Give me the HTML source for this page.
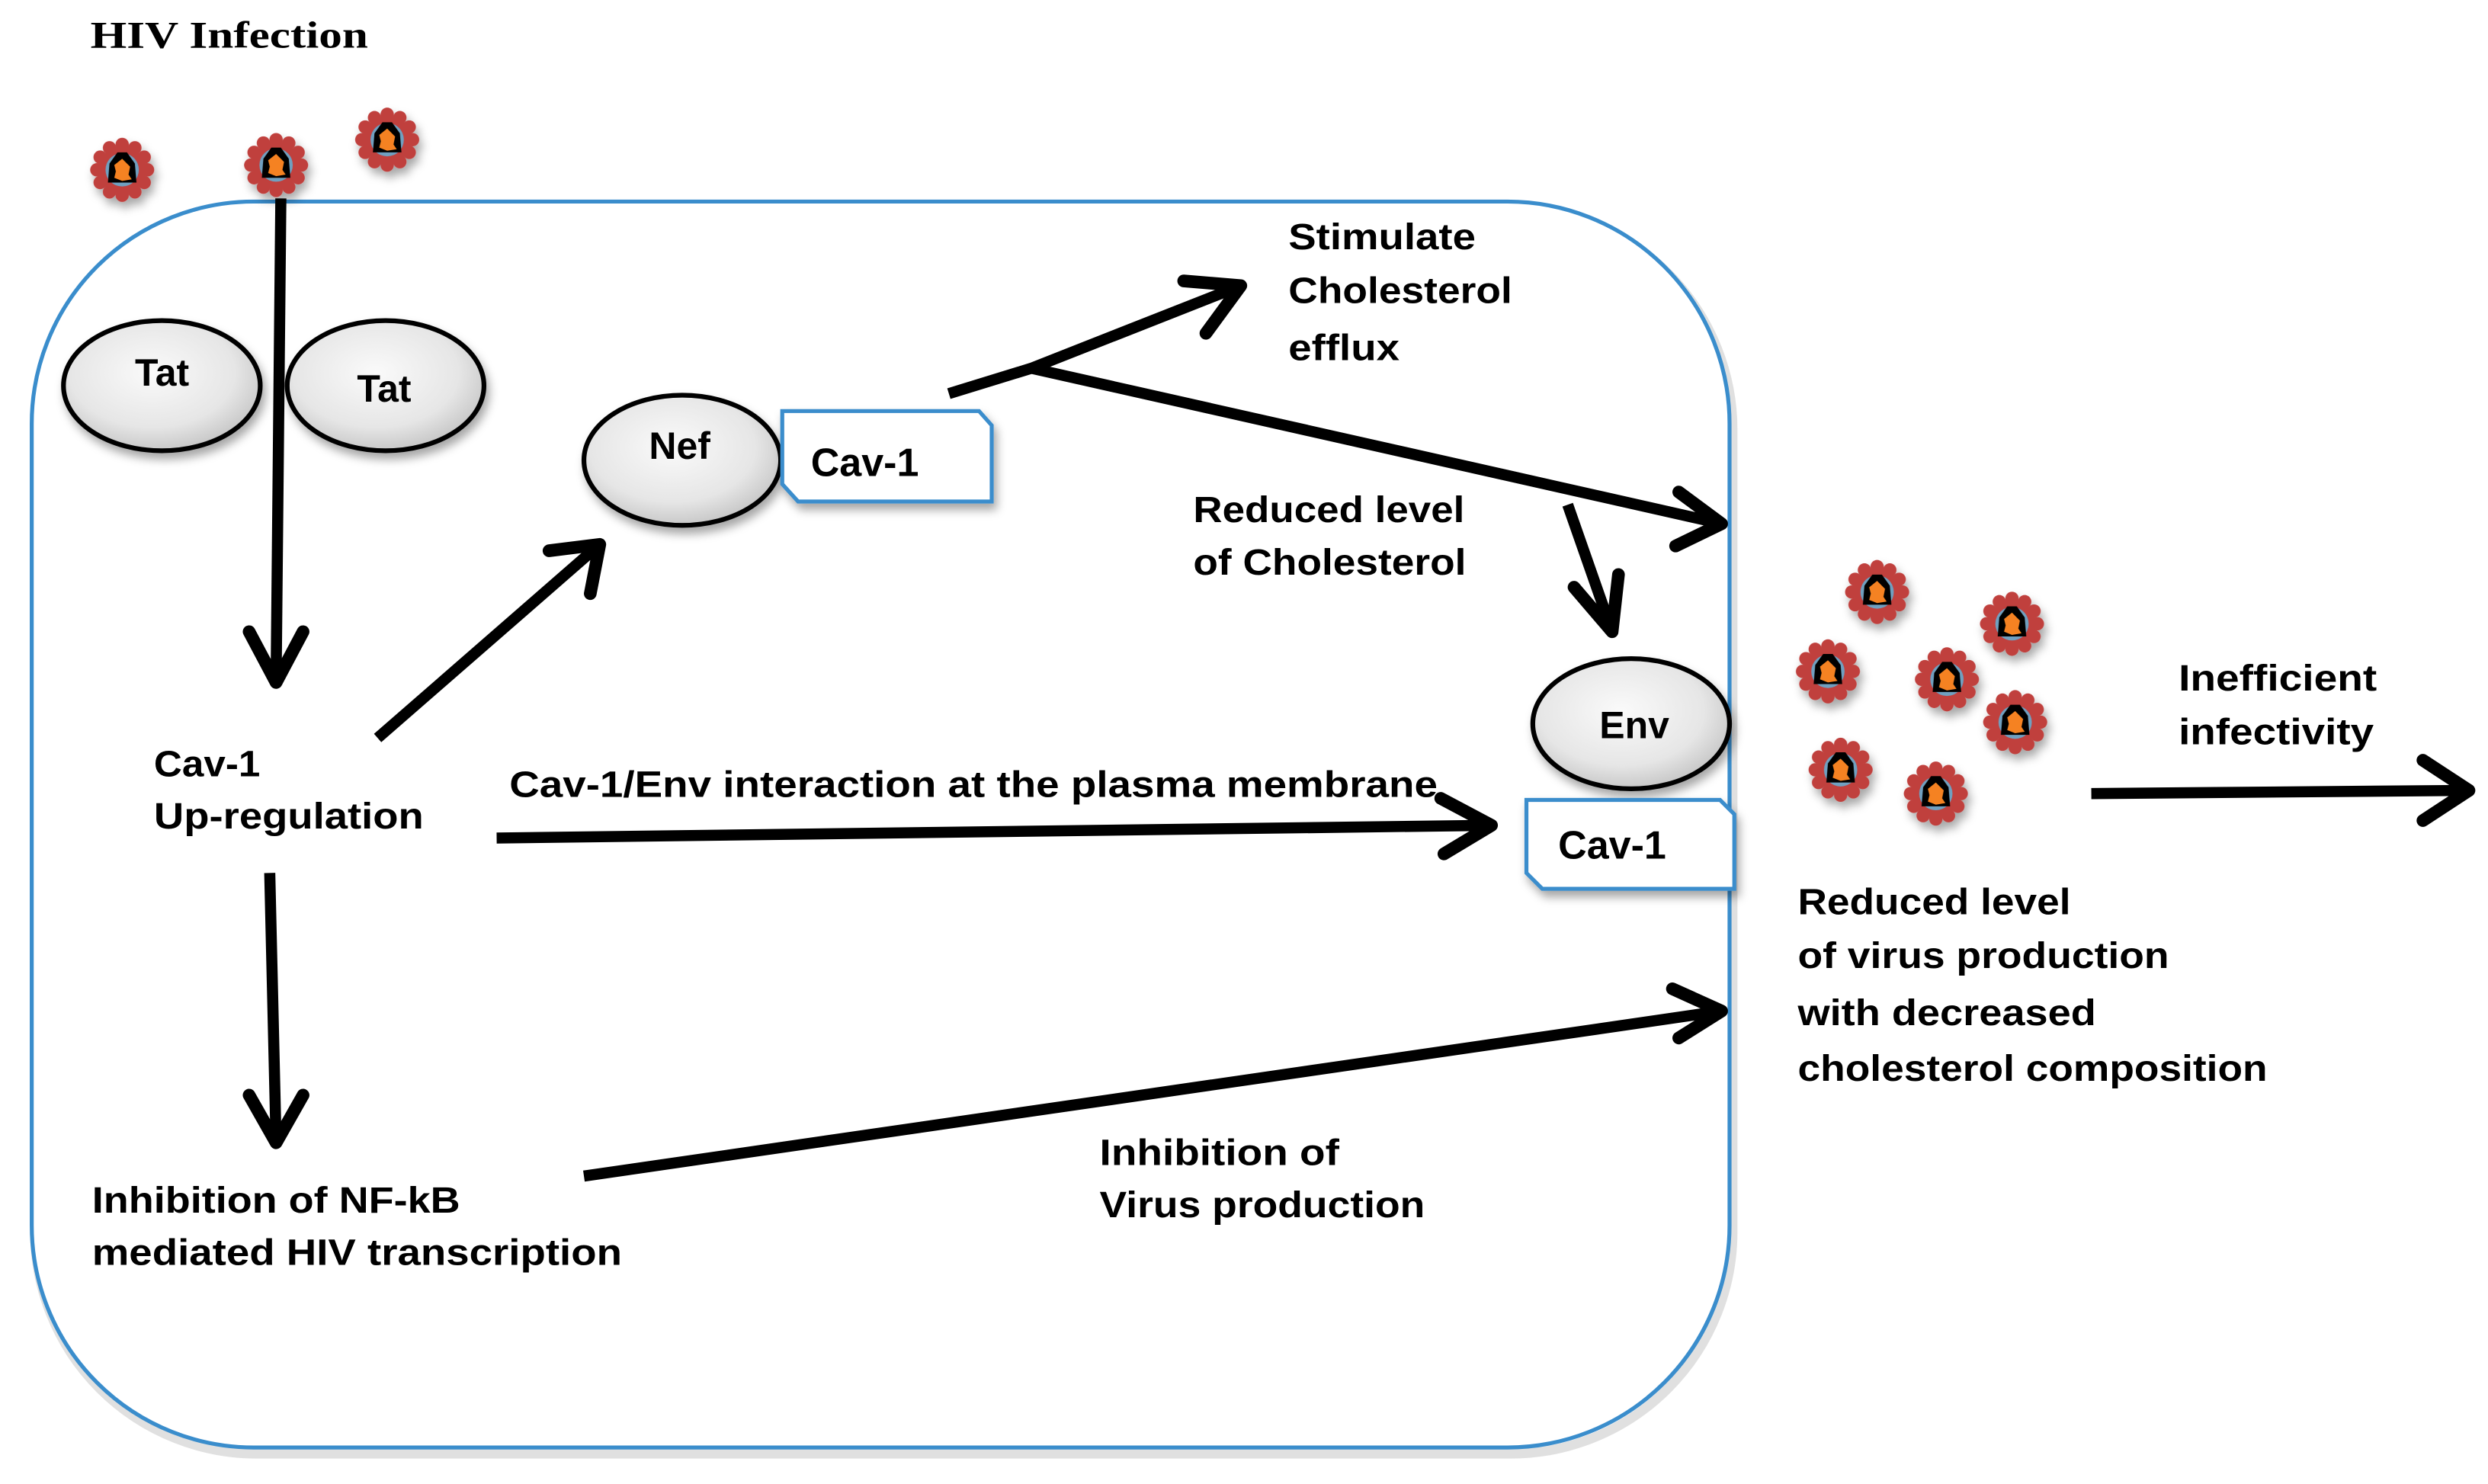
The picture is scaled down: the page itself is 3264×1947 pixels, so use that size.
<!DOCTYPE html>
<html><head><meta charset="utf-8">
<style>
html,body{margin:0;padding:0;background:#fff;}
svg{display:block;}
text{font-family:"Liberation Sans",sans-serif;font-weight:bold;fill:#000;}
</style></head>
<body>
<svg width="3264" height="1947" viewBox="0 0 1568 935" preserveAspectRatio="none" xmlns="http://www.w3.org/2000/svg">
<defs>
  <radialGradient id="eg" cx="45%" cy="40%" r="60%">
    <stop offset="0" stop-color="#fafafa"/><stop offset="0.7" stop-color="#e6e6e6"/><stop offset="1" stop-color="#c8c8c8"/>
  </radialGradient>
  <filter id="sh" x="-30%" y="-30%" width="160%" height="160%">
    <feDropShadow dx="2" dy="4" stdDeviation="3" flood-color="#000" flood-opacity="0.35"/>
  </filter>
  <g id="v">
    <g fill="#c0403e">
      <circle cx="0" cy="-16" r="4.2"/><circle cx="8" cy="-13.9" r="4.2"/><circle cx="13.9" cy="-8" r="4.2"/>
      <circle cx="16" cy="0" r="4.2"/><circle cx="13.9" cy="8" r="4.2"/><circle cx="8" cy="13.9" r="4.2"/>
      <circle cx="0" cy="16" r="4.2"/><circle cx="-8" cy="13.9" r="4.2"/><circle cx="-13.9" cy="8" r="4.2"/>
      <circle cx="-16" cy="0" r="4.2"/><circle cx="-13.9" cy="-8" r="4.2"/><circle cx="-8" cy="-13.9" r="4.2"/>
      <circle r="15"/>
    </g>
    <circle r="10.5" fill="#6fa0c0"/>
    <path d="M-8,-4 L-3,-11 L3,-11 L8,-4 L9,8 L-9,8 Z" fill="#000"/>
    <path d="M-5,-3 L0,-7 L5,-2 L4,3 L6,6 L0,7 L-5,5 L-4,1 Z" fill="#f58220"/>
  </g>
</defs>

<text x="57" y="30" style="font-family:'Liberation Serif',serif;font-size:24px" textLength="175" lengthAdjust="spacingAndGlyphs">HIV Infection</text>

<!-- cell -->
<rect x="20" y="127" width="1070" height="785" rx="140" ry="140" fill="none" stroke="#ccc" stroke-width="6" transform="translate(2,4)" opacity="0.6"/>
<rect x="20" y="127" width="1070" height="785" rx="140" ry="140" fill="#fff" stroke="#3a8dcc" stroke-width="2.5"/>

<!-- viruses -->
<g filter="url(#sh)">
<use href="#v" x="77" y="107"/><use href="#v" x="174" y="104"/><use href="#v" x="244" y="88"/>
<use href="#v" x="1183" y="373"/><use href="#v" x="1268" y="393"/><use href="#v" x="1152" y="423"/>
<use href="#v" x="1227" y="428"/><use href="#v" x="1270" y="455"/><use href="#v" x="1160" y="485"/><use href="#v" x="1220" y="500"/>
</g>

<!-- arrows -->
<g stroke="#000" stroke-width="7" fill="none" stroke-linecap="butt" stroke-linejoin="round">
  <line x1="177" y1="125" x2="174" y2="430"/>
  <path d="M157,398 L174,430 L191,398" stroke-linecap="round" stroke-width="8"/>
  <line x1="238" y1="465" x2="378" y2="343"/>
  <path d="M346,347 L378,343 L372,374" stroke-linecap="round" stroke-width="8"/>
  <path d="M598,248 L650,232 L782,180"/>
  <path d="M746,177 L782,180 L760,210" stroke-linecap="round" stroke-width="8"/>
  <path d="M650,232 L1085,330"/>
  <path d="M1058,310 L1085,330 L1056,344" stroke-linecap="round" stroke-width="8"/>
  <line x1="988" y1="318" x2="1016" y2="398"/>
  <path d="M992,370 L1016,398 L1020,362" stroke-linecap="round" stroke-width="8"/>
  <line x1="313" y1="528" x2="940" y2="520"/>
  <path d="M908,503 L940,520 L910,538" stroke-linecap="round" stroke-width="8"/>
  <line x1="170" y1="550" x2="174" y2="720"/>
  <path d="M157,690 L174,720 L191,690" stroke-linecap="round" stroke-width="8"/>
  <line x1="368" y1="741" x2="1085" y2="637"/>
  <path d="M1054,623 L1085,637 L1058,654" stroke-linecap="round" stroke-width="8"/>
  <line x1="1318" y1="500" x2="1556" y2="498"/>
  <path d="M1527,479 L1556,498 L1527,517" stroke-linecap="round" stroke-width="8"/>
</g>

<!-- ellipses -->
<g filter="url(#sh)" stroke="#000" stroke-width="3" fill="url(#eg)">
  <ellipse cx="102" cy="243" rx="62" ry="41"/>
  <ellipse cx="243" cy="243" rx="62" ry="41"/>
  <ellipse cx="430" cy="290" rx="62" ry="41"/>
  <ellipse cx="1028" cy="456" rx="62" ry="41"/>
</g>
<text x="85" y="243" font-size="24">Tat</text>
<text x="225" y="253" font-size="24">Tat</text>
<text x="409" y="289" font-size="24">Nef</text>
<text x="1008" y="465" font-size="24">Env</text>

<!-- Cav-1 boxes -->
<g filter="url(#sh)" stroke="#3a8dcc" stroke-width="2.5" fill="#fff">
  <path d="M493,259 L617,259 L625,268 L625,316 L503,316 L493,305 Z"/>
  <path d="M962,504 L1084,504 L1093,513 L1093,560 L972,560 L962,550 Z"/>
</g>
<text x="511" y="300" font-size="25">Cav-1</text>
<text x="982" y="541" font-size="25">Cav-1</text>

<!-- labels -->
<g font-size="23">
<text x="812" y="157" textLength="118" lengthAdjust="spacingAndGlyphs">Stimulate</text>
<text x="812" y="191" textLength="141" lengthAdjust="spacingAndGlyphs">Cholesterol</text>
<text x="812" y="227" textLength="70" lengthAdjust="spacingAndGlyphs">efflux</text>
<text x="752" y="329" textLength="171" lengthAdjust="spacingAndGlyphs">Reduced level</text>
<text x="752" y="362" textLength="172" lengthAdjust="spacingAndGlyphs">of Cholesterol</text>
<text x="97" y="489" textLength="67" lengthAdjust="spacingAndGlyphs">Cav-1</text>
<text x="97" y="522" textLength="170" lengthAdjust="spacingAndGlyphs">Up-regulation</text>
<text x="321" y="502" textLength="585" lengthAdjust="spacingAndGlyphs">Cav-1/Env interaction at the plasma membrane</text>
<text x="58" y="764" textLength="232" lengthAdjust="spacingAndGlyphs">Inhibition of NF-kB</text>
<text x="58" y="797" textLength="334" lengthAdjust="spacingAndGlyphs">mediated HIV transcription</text>
<text x="693" y="734" textLength="151" lengthAdjust="spacingAndGlyphs">Inhibition of</text>
<text x="693" y="767" textLength="205" lengthAdjust="spacingAndGlyphs">Virus production</text>
<text x="1373" y="435" textLength="125" lengthAdjust="spacingAndGlyphs">Inefficient</text>
<text x="1373" y="469" textLength="123" lengthAdjust="spacingAndGlyphs">infectivity</text>
<text x="1133" y="576" textLength="172" lengthAdjust="spacingAndGlyphs">Reduced level</text>
<text x="1133" y="610" textLength="234" lengthAdjust="spacingAndGlyphs">of virus production</text>
<text x="1133" y="646" textLength="188" lengthAdjust="spacingAndGlyphs">with decreased</text>
<text x="1133" y="681" textLength="296" lengthAdjust="spacingAndGlyphs">cholesterol composition</text>
</g>
</svg>
</body></html>
